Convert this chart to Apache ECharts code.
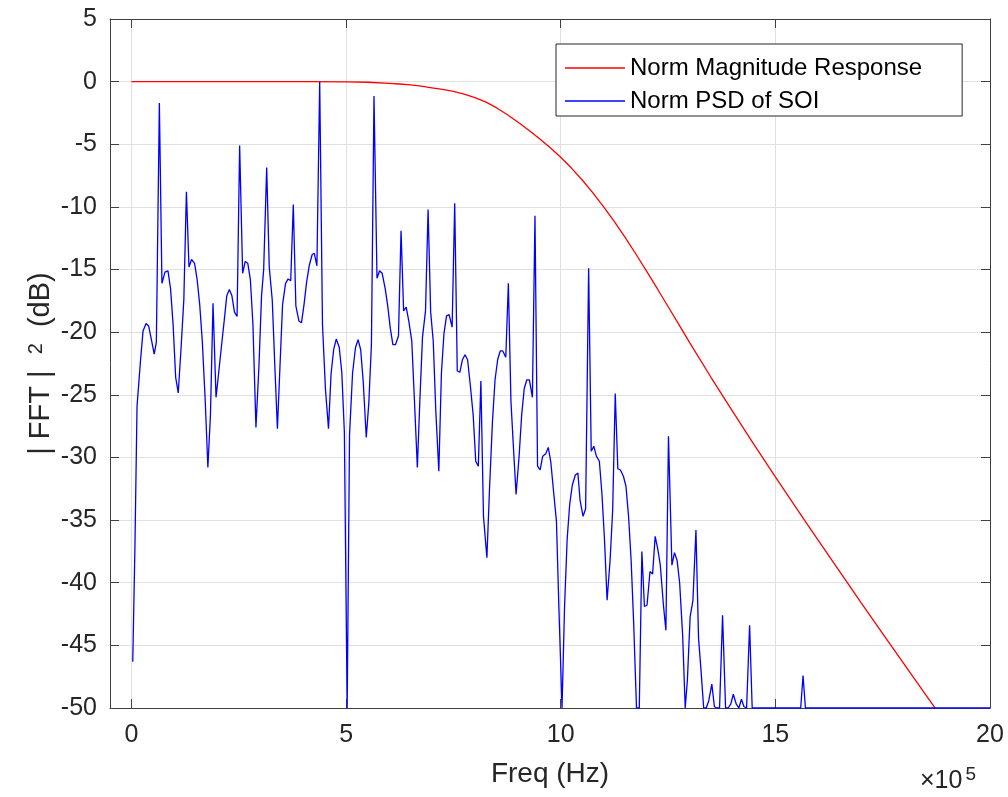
<!DOCTYPE html>
<html>
<head>
<meta charset="utf-8">
<script src="https://cdn.jsdelivr.net/npm/echarts@6/dist/echarts.min.js"></script>
<style>
html,body{margin:0;padding:0;background:#fff;}
#chart{width:1008px;height:797px;}
</style>
</head>
<body>
<div id="chart"></div>
<script>
// Frequencies in units of 1e5 Hz (axis shows x10^5)
var xTicks = [0, 5, 10, 15, 20];

var respFreq = [0, 1, 2, 3, 4, 5, 5.5, 6, 6.25, 6.5, 6.75, 7, 7.25, 7.5, 7.75, 8, 8.25, 8.5, 8.75, 9, 9.25, 9.5, 9.75, 10, 10.25, 10.5, 10.75, 11, 11.25, 11.5, 11.75, 12, 12.25, 12.5, 12.75, 13, 13.5, 14, 14.5, 15, 15.5, 16, 16.5, 17, 17.5, 18, 18.5, 19, 19.5, 20];
var respDb = [0, 0, 0, 0, 0, -0.02, -0.05, -0.14, -0.19, -0.26, -0.36, -0.49, -0.62, -0.78, -0.99, -1.27, -1.62, -2.08, -2.62, -3.22, -3.86, -4.54, -5.26, -6.03, -6.9, -7.85, -8.88, -9.99, -11.18, -12.44, -13.76, -15.13, -16.53, -17.95, -19.38, -20.81, -23.6, -26.3, -28.95, -31.55, -34.1, -36.62, -39.12, -41.6, -44.06, -46.5, -48.93, -51.35, -53.77, -56.19];

var psdFreq = [0.03,0.08,0.13,0.21,0.27,0.34,0.40,0.47,0.53,0.58,0.65,0.71,0.78,0.85,0.91,0.97,1.03,1.09,1.16,1.22,1.28,1.34,1.40,1.47,1.53,1.59,1.65,1.72,1.78,1.84,1.90,1.97,2.03,2.10,2.16,2.22,2.28,2.34,2.40,2.46,2.52,2.59,2.65,2.71,2.77,2.83,2.90,2.97,3.03,3.08,3.15,3.21,3.28,3.34,3.40,3.46,3.52,3.59,3.65,3.71,3.77,3.83,3.90,3.96,4.02,4.08,4.14,4.21,4.26,4.32,4.385,4.45,4.52,4.59,4.65,4.71,4.77,4.84,4.90,4.96,5.025,5.08,5.15,5.22,5.28,5.34,5.40,5.47,5.53,5.59,5.65,5.72,5.78,5.84,5.91,5.97,6.03,6.09,6.15,6.22,6.28,6.34,6.40,6.46,6.53,6.59,6.66,6.72,6.78,6.85,6.91,6.97,7.03,7.09,7.16,7.22,7.28,7.34,7.40,7.47,7.53,7.59,7.65,7.71,7.77,7.83,7.89,7.96,8.02,8.08,8.14,8.20,8.28,8.34,8.41,8.47,8.53,8.59,8.65,8.72,8.78,8.84,8.90,8.96,9.03,9.09,9.15,9.21,9.27,9.34,9.40,9.46,9.52,9.58,9.65,9.71,9.77,9.83,9.90,9.96,10.03,10.09,10.15,10.21,10.27,10.34,10.40,10.45,10.52,10.58,10.65,10.71,10.77,10.83,10.90,10.96,11.02,11.08,11.15,11.21,11.27,11.33,11.39,11.46,11.52,11.58,11.64,11.70,11.765,11.83,11.89,11.95,12.01,12.08,12.14,12.20,12.26,12.32,12.39,12.45,12.51,12.59,12.65,12.71,12.77,12.84,12.90,12.95,13.015,13.08,13.15,13.21,13.27,13.33,13.39,13.45,13.52,13.58,13.64,13.70,13.77,13.84,13.90,13.96,14.02,14.09,14.15,14.21,14.27,14.33,14.40,14.46,15.59,15.645,15.70,20];
var psdDb = [-46.3,-37.3,-25.9,-22.3,-19.9,-19.3,-19.5,-20.7,-21.75,-20.8,-1.7,-16.1,-15.2,-15.1,-16.5,-19.4,-23.6,-24.85,-21.0,-17.4,-8.8,-14.8,-14.2,-14.5,-15.8,-17.8,-20.7,-25.6,-30.8,-26.6,-17.7,-25.2,-23.3,-21.0,-19.1,-17.1,-16.6,-17.1,-18.4,-18.75,-5.1,-15.3,-14.35,-14.5,-15.8,-19.4,-27.6,-22.7,-17.1,-15.0,-6.85,-14.8,-17.45,-22.7,-27.7,-22.7,-17.8,-16.1,-15.75,-15.9,-9.8,-17.9,-19.1,-19.25,-17.8,-16.0,-14.7,-13.8,-13.7,-14.7,0,-19.4,-24.6,-27.7,-23.3,-21.4,-20.55,-21.2,-23.2,-28.0,-50,-28.2,-23.3,-21.2,-20.6,-21.4,-24.0,-28.4,-25.6,-21.0,-1.15,-15.7,-15.1,-15.3,-16.5,-17.9,-19.7,-21.0,-21.0,-20.3,-11.9,-18.3,-18.0,-19.1,-20.7,-25.3,-30.8,-25.3,-20.4,-18.3,-10.2,-18.4,-20.7,-26.3,-31.1,-23.3,-20.1,-18.7,-18.6,-19.6,-9.7,-23.1,-23.2,-22.2,-21.8,-22.2,-24.1,-26.6,-30.3,-30.7,-23.9,-34.7,-38.0,-32.6,-27.1,-23.8,-22.2,-21.5,-21.5,-22.0,-16.1,-25.5,-29.3,-32.95,-29.9,-26.6,-24.5,-23.8,-23.8,-25.2,-10.7,-30.7,-31.0,-29.9,-29.7,-29.2,-30.4,-32.6,-35.1,-42.3,-50,-41.8,-36.5,-33.7,-32.2,-31.4,-31.25,-33.4,-34.7,-34.1,-14.9,-29.5,-29.1,-29.9,-30.3,-32.9,-36.6,-41.4,-38.2,-34.2,-24.9,-30.9,-31.0,-31.5,-32.3,-34.7,-38.2,-43.3,-50,-50,-37.5,-41.9,-41.8,-39.1,-39.3,-36.3,-37.3,-38.6,-41.7,-43.8,-28.3,-38.6,-37.6,-38.2,-40.0,-44.2,-50,-47.8,-42.7,-41.4,-35.8,-44.4,-47.1,-50,-50,-49.4,-48.1,-49.9,-50,-50,-42.6,-50,-50,-49.7,-48.9,-49.7,-50,-49.3,-49.9,-50,-43.4,-50,-50,-47.4,-50,-50];

function zip(a, b) { return a.map(function (v, i) { return [v, b[i]]; }); }

var axisColor = '#404040';
var textColor = '#262626';
var fontFam = '"Liberation Sans", Arial, Helvetica, sans-serif';

var chart = echarts.init(document.getElementById('chart'), null, {renderer: 'canvas'});
chart.setOption({
  animation: false,
  backgroundColor: '#ffffff',
  textStyle: {fontFamily: fontFam},
  grid: {left: 110, top: 19, right: 18, bottom: 89, containLabel: false},
  legend: {
    left: 556, top: 44, orient: 'vertical',
    backgroundColor: '#ffffff', borderColor: '#262626', borderWidth: 1, borderRadius: 0,
    padding: [10, 40, 1, 9], itemGap: 5, itemWidth: 60, itemHeight: 1.3,
    icon: 'rect',
    textStyle: {fontSize: 24, color: '#000', fontFamily: fontFam, lineHeight: 28},
    data: ['Norm Magnitude Response', 'Norm PSD of SOI']
  },
  xAxis: [{
    type: 'value', min: -0.5, max: 20, position: 'bottom',
    name: 'Freq (Hz)', nameLocation: 'middle', nameGap: 52, nameMoveOverlap: false,
    nameTextStyle: {fontSize: 28, color: textColor, fontFamily: fontFam},
    axisLine: {show: true, onZero: false, lineStyle: {color: axisColor, width: 1}},
    axisTick: {show: true, inside: true, length: 9, customValues: xTicks, lineStyle: {color: axisColor}},
    axisLabel: {show: true, customValues: xTicks, margin: 15, fontSize: 25, color: textColor, fontFamily: fontFam},
    splitLine: {show: true, lineStyle: {color: '#e0e0e0', width: 1}}
  }, {
    type: 'value', min: -0.5, max: 20, position: 'top',
    axisLine: {show: true, onZero: false, lineStyle: {color: axisColor, width: 1}},
    axisTick: {show: true, inside: true, length: 9, customValues: xTicks, lineStyle: {color: axisColor}},
    axisLabel: {show: false},
    splitLine: {show: false}
  }],
  yAxis: [{
    type: 'value', min: -50, max: 5, interval: 5, position: 'left',
    name: '| FFT |  {sup|2}  (dB)', nameLocation: 'middle', nameGap: 55, nameRotate: 90, nameMoveOverlap: false,
    nameTextStyle: {fontSize: 29, color: textColor, fontFamily: fontFam,
      rich: {sup: {fontSize: 20, color: textColor, fontFamily: fontFam, verticalAlign: 'top', lineHeight: 29, padding: [0, 0, 14, 0]}}},
    axisLine: {show: true, onZero: false, lineStyle: {color: axisColor, width: 1}},
    axisTick: {show: true, inside: true, length: 9, lineStyle: {color: axisColor}},
    axisLabel: {show: true, margin: 13, fontSize: 25, color: textColor, fontFamily: fontFam},
    splitLine: {show: true, lineStyle: {color: '#e0e0e0', width: 1}}
  }, {
    type: 'value', min: -50, max: 5, interval: 5, position: 'right',
    axisLine: {show: true, onZero: false, lineStyle: {color: axisColor, width: 1}},
    axisTick: {show: true, inside: true, length: 9, lineStyle: {color: axisColor}},
    axisLabel: {show: false},
    splitLine: {show: false}
  }],
  graphic: [{
    type: 'text', left: 920, top: 765,
    style: {
      text: '×10{sup|5}',
      font: '25px ' + fontFam, fill: textColor,
      rich: {sup: {fontSize: 19, fill: textColor, verticalAlign: 'top', padding: [0, 0, 14, 3]}}
    }
  }],
  series: [{
    name: 'Norm Magnitude Response', type: 'line', xAxisIndex: 0, yAxisIndex: 0,
    data: zip(respFreq, respDb), symbol: 'none', smooth: false,
    lineStyle: {color: '#ff0000', width: 1.3}, itemStyle: {color: '#ff0000'}, clip: true, z: 3
  }, {
    name: 'Norm PSD of SOI', type: 'line', xAxisIndex: 0, yAxisIndex: 0,
    data: zip(psdFreq, psdDb), symbol: 'none',
    lineStyle: {color: '#0000ff', width: 1.3}, itemStyle: {color: '#0000ff'}, clip: true, z: 4
  }]
});
</script>
</body>
</html>
